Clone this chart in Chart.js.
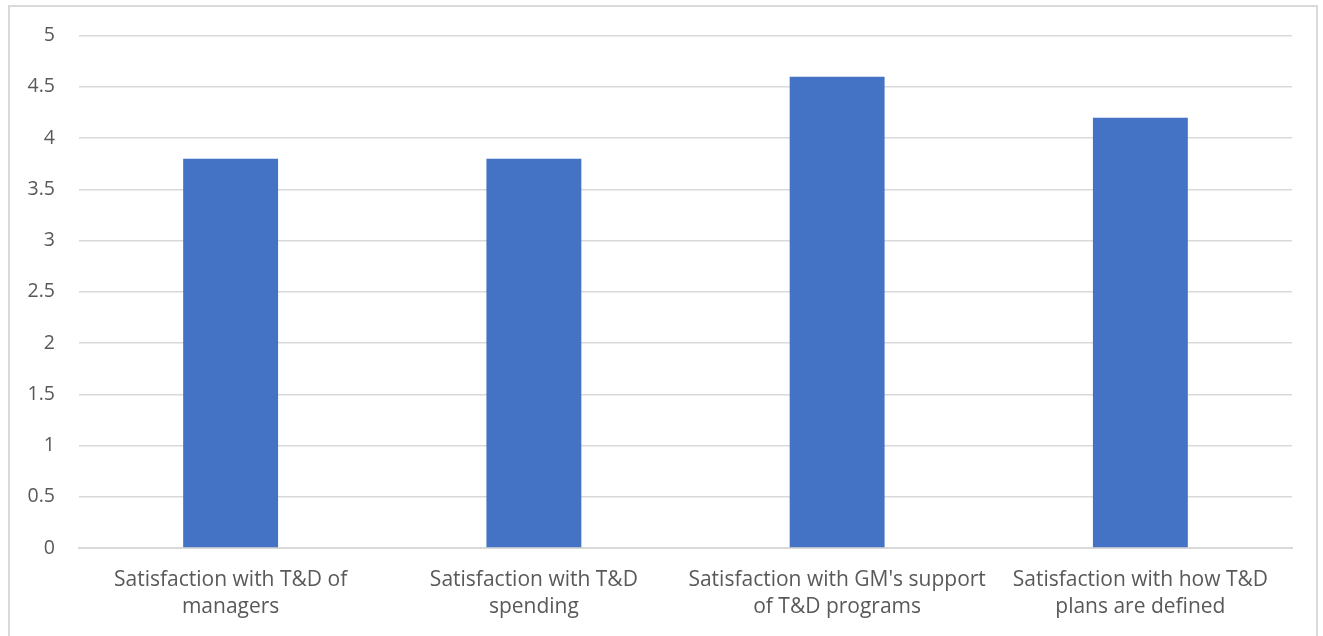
<!DOCTYPE html>
<html>
<head>
<meta charset="utf-8">
<script src="https://cdn.jsdelivr.net/npm/chart.js@4/dist/chart.umd.min.js"></script>
<style>
  html, body { margin: 0; padding: 0; background: #fff; }
  #frame {
    position: absolute; left: 8px; top: 5px; width: 1310px; height: 640px;
    border: 2px solid #d9d9d9; box-sizing: border-box;
  }
  #wrap { position: absolute; left: 0; top: 0; width: 1323px; height: 636px; }
</style>
</head>
<body>
<div id="frame"></div>
<div id="wrap"><canvas id="chart"></canvas></div>
<script>
// data
const categories = [
    ['Satisfaction with T&D of', 'managers'],
    ['Satisfaction with T&D', 'spending'],
    ["Satisfaction with GM's support", 'of T&D programs'],
    ['Satisfaction with how T&D', 'plans are defined']
];
const scores = [3.8, 3.8, 4.6, 4.2];
const yMin = 0;
const yMax = 5;
const yStep = 0.5;

const textColor = '#595959';
const gridColor = '#d9d9d9';
const fontFamily = "'Open Sans', 'Noto Sans', sans-serif";

const ctx = document.getElementById('chart').getContext('2d');
const chart = new Chart(ctx, {
    type: 'bar',
    data: {
        labels: categories,
        datasets: [{
            data: scores,
            backgroundColor: '#4472c4',
            borderWidth: 0,
            barPercentage: 0.313,
            categoryPercentage: 1
        }]
    },
    options: {
        responsive: true,
        maintainAspectRatio: false,
        animation: false,
        layout: { padding: { top: 33, right: 31, left: 0, bottom: 0 } },
        plugins: {
            legend: { display: false },
            tooltip: { enabled: false }
        },
        scales: {
            x: {
                grid: { display: false, drawTicks: false },
                border: { color: gridColor, width: 2 },
                ticks: {
                    color: textColor,
                    font: { family: fontFamily, size: 21, lineHeight: 1.29 },
                    padding: 18,
                    maxRotation: 0,
                    autoSkip: false
                },
                afterFit: function(scale) { scale.height = 88; }
            },
            y: {
                min: yMin,
                max: yMax,
                grid: { color: gridColor, lineWidth: 1.5, drawTicks: false },
                border: { display: false },
                ticks: {
                    stepSize: yStep,
                    color: textColor,
                    font: { family: fontFamily, size: 19.5 },
                    padding: 24,
                    callback: function(value) { return String(value); }
                },
                afterFit: function(scale) { scale.width = 79; }
            }
        }
    }
});
</script>
</body>
</html>
